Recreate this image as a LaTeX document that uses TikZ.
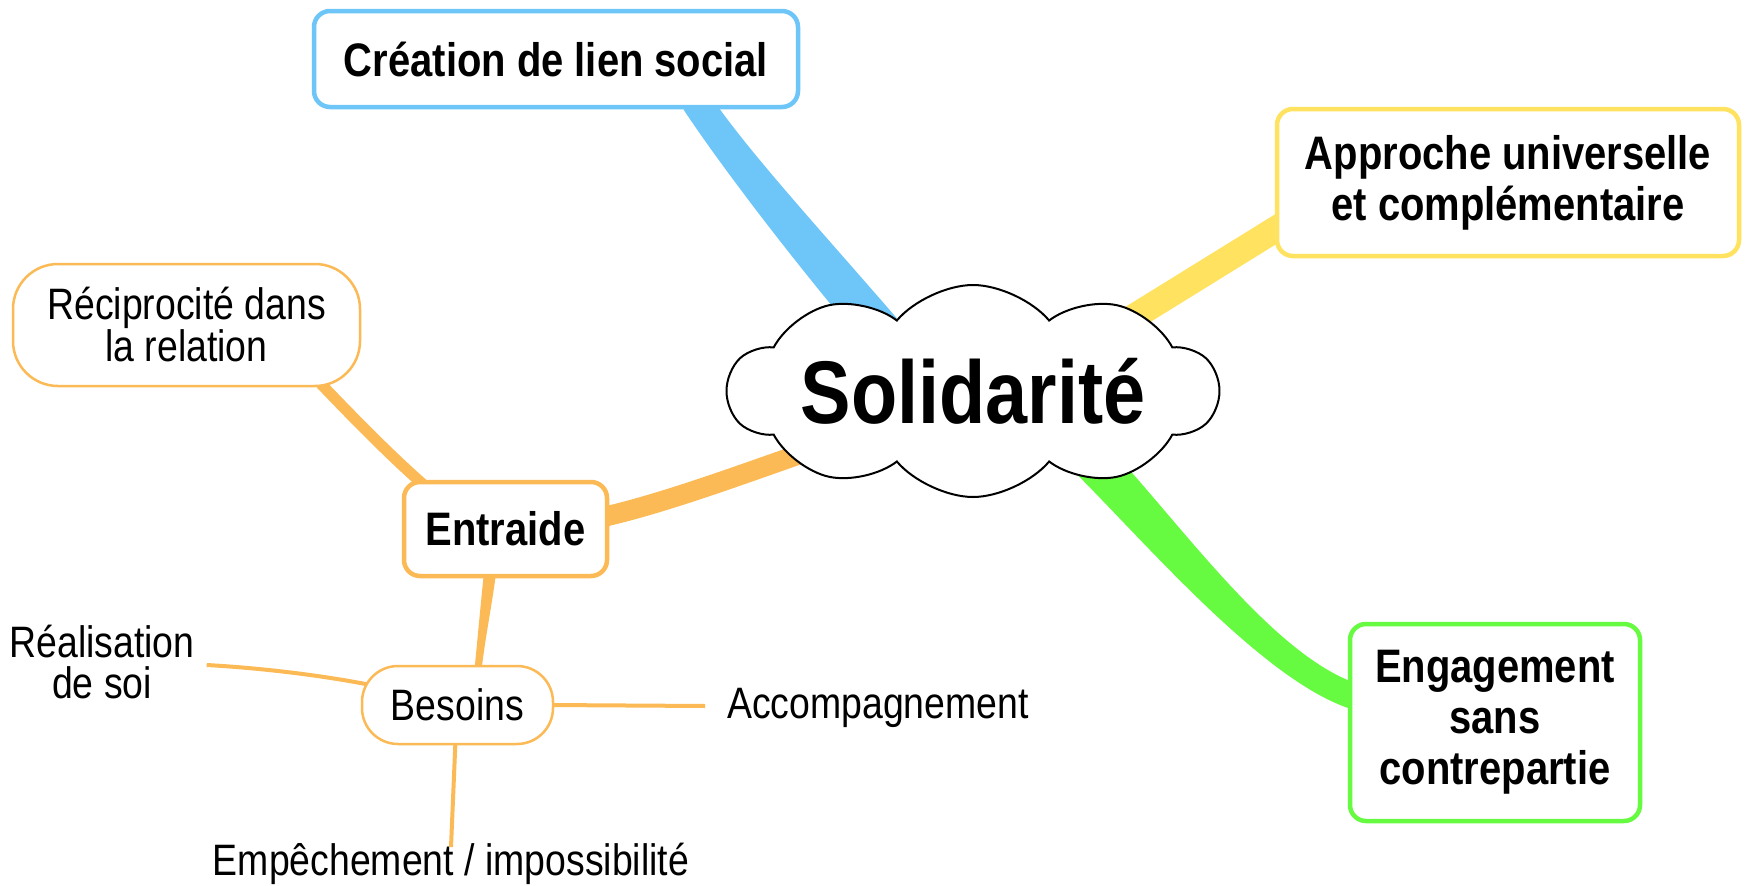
\documentclass[tikz,border=0pt]{standalone}
\usepackage{fontspec}
\setmainfont{Liberation Sans}[FakeStretch=0.85]
\usetikzlibrary{shapes.symbols,calc,backgrounds}
\definecolor{cblue}{RGB}{110,198,248}
\definecolor{cyellow}{RGB}{255,226,95}
\definecolor{cgreen}{RGB}{102,250,64}
\definecolor{corange}{RGB}{252,186,86}
% tapered branch: colour, P0, P1, P2, P3, half width at P0, half width at P3
\newcommand\mmbranch[7]{%
  \coordinate (bP0) at #2; \coordinate (bP1) at #3;
  \coordinate (bP2) at #4; \coordinate (bP3) at #5;
  \coordinate (bA0) at ($(bP0)!#6!90:(bP1)$);
  \coordinate (bB0) at ($(bP0)!#6!-90:(bP1)$);
  \coordinate (bA3) at ($(bP3)!#7!-90:(bP2)$);
  \coordinate (bB3) at ($(bP3)!#7!90:(bP2)$);
  \fill[#1] (bA0) .. controls ($(bP1)+(bA0)-(bP0)$) and ($(bP2)+(bA3)-(bP3)$) .. (bA3)
    -- (bB3) .. controls ($(bP2)+(bB3)-(bP3)$) and ($(bP1)+(bB0)-(bP0)$) .. (bB0) -- cycle;}
\begin{document}
\begin{tikzpicture}[x=1pt,y=-1pt,
  box/.style={draw,fill=white,rounded corners=16pt,line width=4.5pt,align=center,inner sep=0pt,
    font=\bfseries\fontsize{47}{51}\selectfont},
  subbox/.style={draw=corange,fill=white,line width=2.5pt,align=center,inner sep=0pt,
    font=\fontsize{44}{41}\selectfont},
  leaf/.style={align=center,inner sep=0pt,font=\fontsize{44}{41}\selectfont},
  thickbr/.style={line width=#1},
]
\useasboundingbox (0,0) rectangle (1746,886);
% nodes
\node[cloud, cloud puffs=10, cloud puff arc=100, cloud ignores aspect, draw=black, fill=white,
  line width=2pt, minimum width=490pt, minimum height=212pt, inner sep=0pt,
  font=\bfseries\fontsize{89}{89}\selectfont] (sol) at (973,391) {Solidarité};
\node[box,draw=cblue,minimum width=484pt,minimum height=96pt] (cre) at (556,59) {Création de lien social};
\node[box,draw=cyellow,minimum width=462pt,minimum height=147pt] (app) at (1508,182.5) {Approche universelle\\et complémentaire};
\node[box,draw=cgreen,minimum width=290pt,minimum height=197pt] (eng) at (1495,722.5) {Engagement\\sans\\contrepartie};
\node[box,draw=corange,minimum width=203pt,minimum height=94pt] (ent) at (505.5,529) {Entraide};
\node[subbox,rounded corners=45pt,minimum width=347pt,minimum height=122pt] (rec) at (186.5,325) {Réciprocité dans\\la relation};
\node[subbox,rounded corners=36pt,minimum width=191pt,minimum height=78pt] (bes) at (457.5,705) {Besoins};
\node[leaf] (rea) at (102,662) {Réalisation\\de soi};
\node[leaf] (acc) at (878,708) {Accompagnement};
\node[leaf] (emp) at (451,864) {Empêchement / impossibilité};
% connectors
\begin{scope}[on background layer]
\fill[white] (0,0) rectangle (1746,886);
\mmbranch{cblue}{($(sol.center)+(-80,-45)$)}{(815,255)}{(735,160)}{($(cre.south)+(140,-8)$)}{21pt}{15pt}
\mmbranch{cgreen}{($(sol.center)+(105,55)$)}{(1150,515)}{(1265,670)}{($(eng.west)+(10,-25)$)}{21pt}{13pt}
\draw[cyellow,thickbr=26pt] ($(sol.center)+(130,-55)$) -- ($(app.west)+(15,38)$);
\draw[corange,thickbr=20pt] ($(sol.center)+(-150,55)$) .. controls (740,475) and (660,505) .. ($(ent.east)+(-15,-10)$);
\draw[corange,thickbr=11pt] ($(rec.south)+(130,-8)$) .. controls (360,425) and (400,465) .. ($(ent.north west)+(30,12)$);
\mmbranch{corange}{($(ent.south)+(-15,-10)$)}{(487,600)}{(481,640)}{($(bes.north)+(20,10)$)}{6pt}{3.5pt}
\draw[corange,thickbr=4pt] ($(bes.west)+(10,-20)$) .. controls (320,675) and (260,668) .. ($(rea.east)+(12,3)$);
\draw[corange,thickbr=4pt] ($(bes.east)+(-5,0)$) -- ($(acc.west)+(-22,-2)$);
\draw[corange,thickbr=4pt] ($(bes.south)+(-2,-5)$) -- ($(emp.north)+(0,4)$);
\end{scope}
\end{tikzpicture}
\end{document}
